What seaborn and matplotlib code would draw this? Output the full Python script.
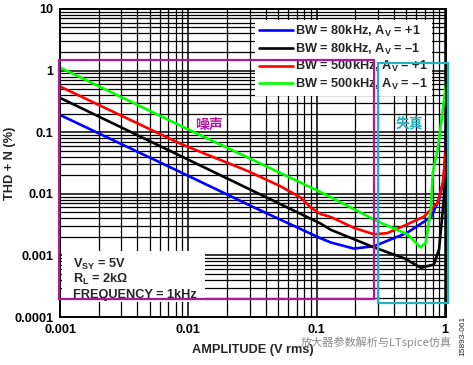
import matplotlib
matplotlib.use("Agg")
import matplotlib.pyplot as plt
import seaborn as sns
import pandas as pd
from matplotlib.patches import Rectangle
from matplotlib.ticker import LogLocator, NullFormatter

# series (x = amplitude V rms, y = THD+N %)
labels = [
    "BW = 80kHz, A$_\\mathrm{V}$ = +1",
    "BW = 80kHz, A$_\\mathrm{V}$ = –1",
    "BW = 500kHz, A$_\\mathrm{V}$ = +1",
    "BW = 500kHz, A$_\\mathrm{V}$ = –1",
]
colors = ["#0000ff", "#000000", "#ff0000", "#00ff00"]

blue_x = [0.001, 0.00871, 0.032, 0.107, 0.129, 0.195, 0.28, 0.51, 0.78, 0.90, 0.98, 1.0, 1.05]
blue_y = [0.19, 0.0224, 0.0061, 0.0019, 0.00162, 0.00129, 0.00141, 0.00234, 0.0042, 0.0081, 0.017, 0.04, 0.2]

black_x = [0.001, 0.00871, 0.107, 0.129, 0.28, 0.48, 0.65, 0.82, 0.90, 0.98, 1.0, 1.05]
black_y = [0.36, 0.041, 0.0033, 0.0026, 0.00135, 0.0009, 0.00063, 0.00071, 0.00126, 0.0081, 0.02, 1.0]

red_x = [0.001, 0.00866, 0.0158, 0.0288, 0.0524, 0.075, 0.0898, 0.107, 0.129, 0.195, 0.28, 0.355, 0.51, 0.69, 0.88, 0.964, 1.02, 1.05]
red_y = [0.55, 0.065, 0.039, 0.0236, 0.0132, 0.0087, 0.006, 0.0047, 0.0042, 0.0028, 0.0022, 0.0023, 0.0032, 0.0043, 0.0072, 0.0155, 0.054, 0.3]

green_x = [0.001, 0.00871, 0.107, 0.30, 0.51, 0.646, 0.71, 0.776, 0.805, 0.88, 1.02, 1.05]
green_y = [1.12, 0.127, 0.0107, 0.00355, 0.0022, 0.00135, 0.00162, 0.0056, 0.0225, 0.054, 0.61, 3.0]

xs = [blue_x, black_x, red_x, green_x]
ys = [blue_y, black_y, red_y, green_y]

frames = []
for lab, x, y in zip(labels, xs, ys):
    frames.append(pd.DataFrame({"amp": x, "thdn": y, "series": lab}))
df = pd.concat(frames, ignore_index=True)

sns.set_style("white")
plt.rcParams["font.family"] = ["Liberation Sans", "Noto Sans CJK SC", "DejaVu Sans"]
plt.rcParams["font.weight"] = "bold"
plt.rcParams["mathtext.fontset"] = "custom"
plt.rcParams["mathtext.rm"] = "Liberation Sans:bold"
plt.rcParams["mathtext.it"] = "Liberation Sans:bold"
plt.rcParams["mathtext.bf"] = "Liberation Sans:bold"

fs = 9.2

fig = plt.figure(figsize=(4.73, 3.65), dpi=100)
ax = fig.add_axes([0.127, 0.1315, 0.816, 0.844])

sns.lineplot(data=df, x="amp", y="thdn", hue="series", hue_order=labels,
             palette=colors, sort=False, estimator=None, linewidth=1.9, ax=ax)

ax.set_xscale("log")
ax.set_yscale("log")
ax.set_xlim(0.001, 1.02)
ax.set_ylim(0.0001, 10)

ax.set_xticks([0.001, 0.01, 0.1, 1], labels=["0.001", "0.01", "0.1", "1"])
ax.set_yticks([0.0001, 0.001, 0.01, 0.1, 1, 10],
              labels=["0.0001", "0.001", "0.01", "0.1", "1", "10"])
ax.xaxis.set_minor_locator(LogLocator(base=10, subs=(2, 3, 4, 5, 6, 7, 8, 9)))
ax.yaxis.set_minor_locator(LogLocator(base=10, subs=(2, 3, 4, 5, 6, 7, 8, 9)))
ax.xaxis.set_minor_formatter(NullFormatter())
ax.yaxis.set_minor_formatter(NullFormatter())
ax.tick_params(which="both", length=0, labelsize=fs, pad=5, colors="black")
for t in ax.get_xticklabels() + ax.get_yticklabels():
    t.set_fontweight("bold")

ax.grid(which="major", color="black", linewidth=1.1)
ax.grid(which="minor", color="black", linewidth=0.9)
for s in ax.spines.values():
    s.set_color("black")
    s.set_linewidth(1.4)

ax.set_xlabel("AMPLITUDE (V rms)", fontsize=fs, fontweight="bold")
ax.set_ylabel("THD + N (%)", fontsize=fs, fontweight="bold")
ax.xaxis.set_label_coords(0.5, -0.088)
ax.yaxis.set_label_coords(-0.115, 0.5)

leg = ax.legend(loc="upper right", bbox_to_anchor=(0.98, 0.985), frameon=True,
                framealpha=1, edgecolor="none", fancybox=False, fontsize=fs,
                handlelength=2.6, labelspacing=0.2, borderpad=0.3,
                handletextpad=0.2)
leg.set_zorder(5)

# conditions box lower left
ax.add_patch(Rectangle((0.005, 0.05), 0.37, 0.163, transform=ax.transAxes,
                       facecolor="white", edgecolor="none", zorder=3))
cond = ["V$_\\mathrm{SY}$ = 5V", "R$_\\mathrm{L}$ = 2kΩ", "FREQUENCY = 1kHz"]
for txt, yy in zip(cond, [0.159, 0.110, 0.062]):
    ax.text(0.034, yy, txt, transform=ax.transAxes, fontsize=fs,
            fontweight="bold", va="baseline", ha="left", zorder=4)

# annotation boxes
ax.add_patch(Rectangle((-0.003, 0.058), 0.816, 0.776, transform=ax.transAxes,
                       fill=False, edgecolor="#b0189c", linewidth=1.6,
                       clip_on=False, zorder=6))
ax.add_patch(Rectangle((0.824, 0.045), 0.181, 0.78, transform=ax.transAxes,
                       fill=False, edgecolor="#22b2c2", linewidth=1.6,
                       clip_on=False, zorder=6))
ax.text(0.386, 0.623, "噪声", transform=ax.transAxes, fontsize=10,
        fontweight="bold", color="#b0189c", ha="center", va="center",
        family=["Noto Sans CJK SC", "DejaVu Sans"], zorder=7)
ax.text(0.904, 0.63, "失真", transform=ax.transAxes, fontsize=10,
        fontweight="bold", color="#22b2c2", ha="center", va="center",
        family=["Noto Sans CJK SC", "DejaVu Sans"], zorder=7)

fig.text(0.955, 0.063, "放大器参数解析与LTspice仿真", fontsize=8,
         fontweight="normal", color="#8a8a8a", ha="right", va="center",
         family=["Noto Sans CJK SC", "DejaVu Sans"])
fig.text(0.978, 0.079, "15893-061", fontsize=6, rotation=90,
         fontweight="normal", ha="center", va="center")

fig.savefig("out.png", dpi=100)
